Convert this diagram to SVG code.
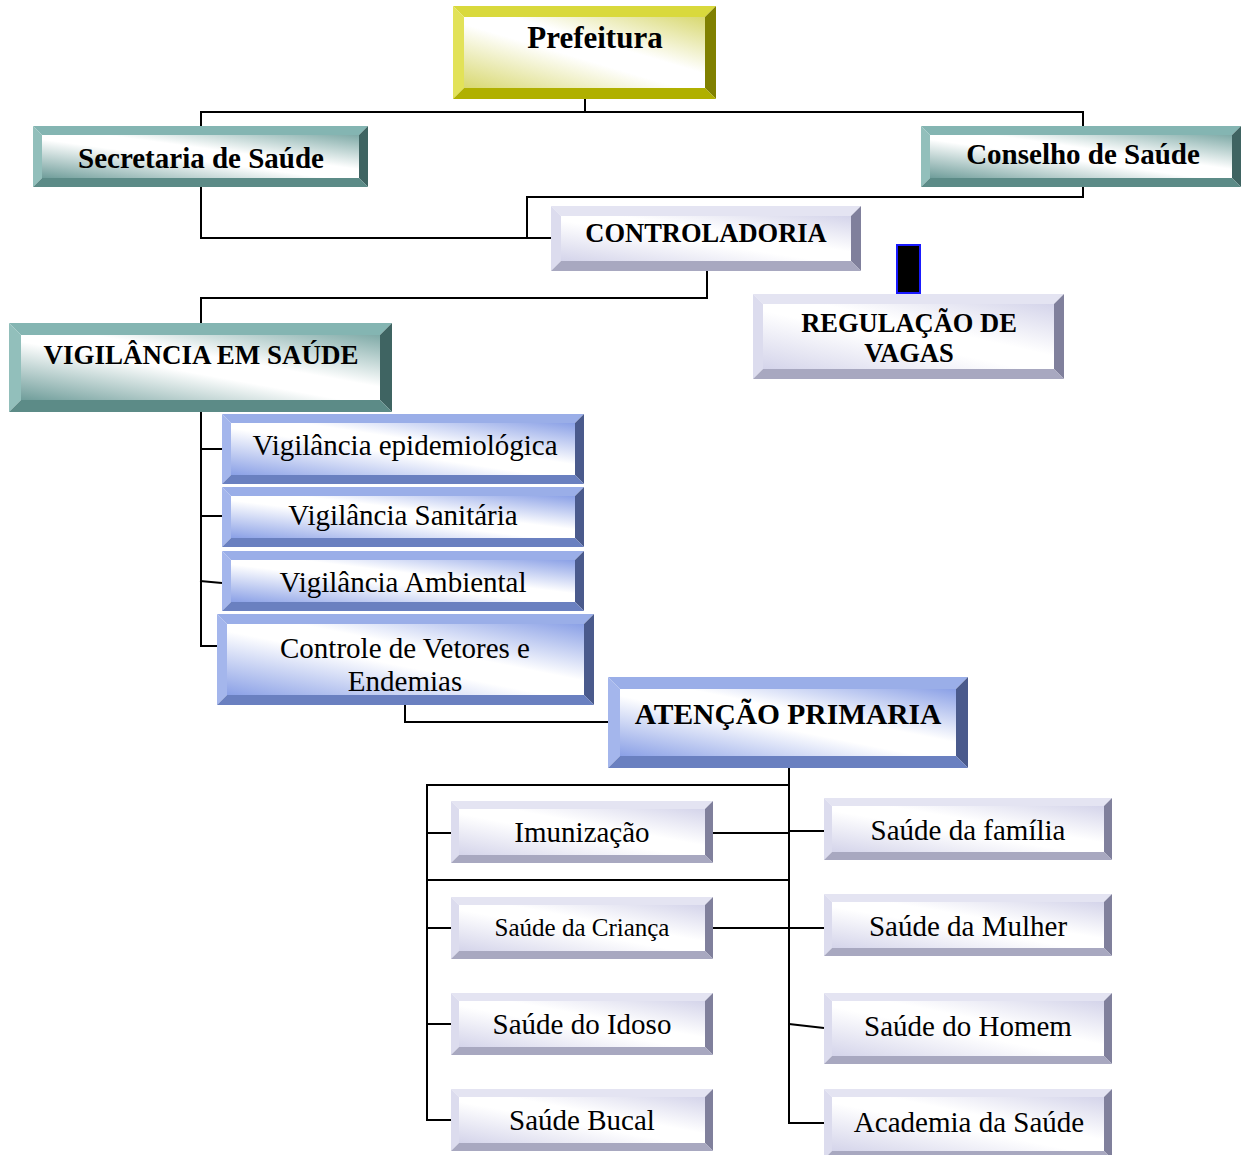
<svg xmlns="http://www.w3.org/2000/svg" width="1242" height="1155" viewBox="0 0 1242 1155">
<style>
text{font-family:"Liberation Serif","Times New Roman",serif;fill:#000;text-anchor:middle}
.b{font-weight:bold}
.c line,.c polyline{stroke:#000;stroke-width:2;fill:none}
.yt{fill:#d9d93c}.yl{fill:#e2e258}.yr{fill:#808000}.yb{fill:#b0b000}
.tt{fill:#84b5b2}.tl{fill:#92bfbb}.tr{fill:#3f6462}.tb{fill:#5c8b87}
.lt{fill:#e4e4f2}.ll{fill:#dcdcee}.lr{fill:#80809c}.lb{fill:#a8a8c0}
.bt{fill:#9aaee8}.bl{fill:#a4b6ec}.br{fill:#4a5a8c}.bb{fill:#6a80c0}
</style>
<defs>
<linearGradient id="gy" x1="0" y1="1" x2="1" y2="0"><stop offset="0" stop-color="#d8d870"/><stop offset="0.45" stop-color="#fff"/><stop offset="0.6" stop-color="#fff"/><stop offset="1" stop-color="#d8d870"/></linearGradient>
<linearGradient id="gt" x1="0" y1="1" x2="1" y2="0"><stop offset="0" stop-color="#6f9d9a"/><stop offset="0.45" stop-color="#fff"/><stop offset="0.6" stop-color="#fff"/><stop offset="1" stop-color="#7faaa7"/></linearGradient>
<linearGradient id="gl" x1="0" y1="1" x2="1" y2="0"><stop offset="0" stop-color="#d4d4ea"/><stop offset="0.45" stop-color="#fff"/><stop offset="0.6" stop-color="#fff"/><stop offset="1" stop-color="#d4d4ea"/></linearGradient>
<linearGradient id="gb" x1="0" y1="1" x2="1" y2="0"><stop offset="0" stop-color="#8aa0e6"/><stop offset="0.45" stop-color="#fff"/><stop offset="0.6" stop-color="#fff"/><stop offset="1" stop-color="#8aa0e6"/></linearGradient>
</defs>
<g class="c" id="connectors">
<polyline points="585,99 585,112"/>
<polyline points="201,126 201,112 1083,112 1083,126"/>
<polyline points="201,187 201,238 551,238"/>
<polyline points="1083,187 1083,197 527,197 527,238"/>
<polyline points="707,271 707,298 201,298 201,323"/>
<line x1="201" y1="412" x2="201" y2="647"/>
<line x1="200" y1="449" x2="222" y2="449"/>
<line x1="200" y1="516" x2="222" y2="516"/>
<line x1="200" y1="581" x2="222" y2="583"/>
<line x1="200" y1="646" x2="217" y2="646"/>
<polyline points="405,705 405,722 608,722"/>
<line x1="789" y1="768" x2="789" y2="1124"/>
<polyline points="789,785 427,785 427,1120 451,1120"/>
<line x1="427" y1="880" x2="789" y2="880"/>
<line x1="427" y1="833" x2="451" y2="833"/>
<line x1="427" y1="928" x2="451" y2="928"/>
<line x1="427" y1="1024" x2="451" y2="1024"/>
<line x1="713" y1="833" x2="789" y2="833"/>
<line x1="789" y1="831" x2="824" y2="831"/>
<line x1="713" y1="928" x2="789" y2="928"/>
<line x1="789" y1="928" x2="824" y2="928"/>
<line x1="789" y1="1024" x2="824" y2="1028"/>
<line x1="788" y1="1123" x2="824" y2="1123"/>
</g>
<g id="prefeitura">
<rect x="464" y="17" width="241" height="71" fill="url(#gy)"/>
<polygon class="yt" points="453,6 716,6 705,17 464,17"/>
<polygon class="yl" points="453,6 464,17 464,88 453,99"/>
<polygon class="yr" points="716,6 716,99 705,88 705,17"/>
<polygon class="yb" points="453,99 464,88 705,88 716,99"/>
<text class="b" x="595" y="48" font-size="31">Prefeitura</text>
</g>
<g id="secretaria">
<rect x="42" y="135" width="317" height="43" fill="url(#gt)"/>
<polygon class="tt" points="33,126 368,126 359,135 42,135"/>
<polygon class="tl" points="33,126 42,135 42,178 33,187"/>
<polygon class="tr" points="368,126 368,187 359,178 359,135"/>
<polygon class="tb" points="33,187 42,178 359,178 368,187"/>
<text class="b" x="201" y="168" font-size="29">Secretaria de Saúde</text>
</g>
<g id="conselho">
<rect x="930" y="135" width="302" height="43" fill="url(#gt)"/>
<polygon class="tt" points="921,126 1241,126 1232,135 930,135"/>
<polygon class="tl" points="921,126 930,135 930,178 921,187"/>
<polygon class="tr" points="1241,126 1241,187 1232,178 1232,135"/>
<polygon class="tb" points="921,187 930,178 1232,178 1241,187"/>
<text class="b" x="1083" y="164" font-size="29">Conselho de Saúde</text>
</g>
<g id="controladoria">
<rect x="561" y="216" width="290" height="45" fill="url(#gl)"/>
<polygon class="lt" points="551,206 861,206 851,216 561,216"/>
<polygon class="ll" points="551,206 561,216 561,261 551,271"/>
<polygon class="lr" points="861,206 861,271 851,261 851,216"/>
<polygon class="lb" points="551,271 561,261 851,261 861,271"/>
<text class="b" x="706" y="242" font-size="26.5">CONTROLADORIA</text>
</g>
<g id="marker-block">
<rect x="897" y="245" width="23" height="48" fill="#000" stroke="#1a1aff" stroke-width="2"/>
</g>
<g id="regulacao">
<rect x="763" y="304" width="291" height="65" fill="url(#gl)"/>
<polygon class="lt" points="753,294 1064,294 1054,304 763,304"/>
<polygon class="ll" points="753,294 763,304 763,369 753,379"/>
<polygon class="lr" points="1064,294 1064,379 1054,369 1054,304"/>
<polygon class="lb" points="753,379 763,369 1054,369 1064,379"/>
<text class="b" x="909" y="332" font-size="26.5">REGULAÇÃO DE</text>
<text class="b" x="909" y="362" font-size="26.5">VAGAS</text>
</g>
<g id="vigilancia-saude">
<rect x="21" y="335" width="359" height="65" fill="url(#gt)"/>
<polygon class="tt" points="9,323 392,323 380,335 21,335"/>
<polygon class="tl" points="9,323 21,335 21,400 9,412"/>
<polygon class="tr" points="392,323 392,412 380,400 380,335"/>
<polygon class="tb" points="9,412 21,400 380,400 392,412"/>
<text class="b" x="201" y="364" font-size="27">VIGILÂNCIA EM SAÚDE</text>
</g>
<g id="vig-epidemiologica">
<rect x="231" y="423" width="344" height="52" fill="url(#gb)"/>
<polygon class="bt" points="222,414 584,414 575,423 231,423"/>
<polygon class="bl" points="222,414 231,423 231,475 222,484"/>
<polygon class="br" points="584,414 584,484 575,475 575,423"/>
<polygon class="bb" points="222,484 231,475 575,475 584,484"/>
<text x="405" y="455" font-size="29">Vigilância epidemiológica</text>
</g>
<g id="vig-sanitaria">
<rect x="231" y="496" width="344" height="42" fill="url(#gb)"/>
<polygon class="bt" points="222,487 584,487 575,496 231,496"/>
<polygon class="bl" points="222,487 231,496 231,538 222,547"/>
<polygon class="br" points="584,487 584,547 575,538 575,496"/>
<polygon class="bb" points="222,547 231,538 575,538 584,547"/>
<text x="403" y="525" font-size="29">Vigilância Sanitária</text>
</g>
<g id="vig-ambiental">
<rect x="231" y="560" width="344" height="42" fill="url(#gb)"/>
<polygon class="bt" points="222,551 584,551 575,560 231,560"/>
<polygon class="bl" points="222,551 231,560 231,602 222,611"/>
<polygon class="br" points="584,551 584,611 575,602 575,560"/>
<polygon class="bb" points="222,611 231,602 575,602 584,611"/>
<text x="403" y="592" font-size="29">Vigilância Ambiental</text>
</g>
<g id="controle-vetores">
<rect x="227" y="624" width="357" height="71" fill="url(#gb)"/>
<text x="405" y="658" font-size="29">Controle de Vetores e</text>
<text x="405" y="691" font-size="29">Endemias</text>
<polygon class="bt" points="217,614 594,614 584,624 227,624"/>
<polygon class="bl" points="217,614 227,624 227,695 217,705"/>
<polygon class="br" points="594,614 594,705 584,695 584,624"/>
<polygon class="bb" points="217,705 227,695 584,695 594,705"/>
</g>
<g id="atencao-primaria">
<rect x="620" y="689" width="336" height="67" fill="url(#gb)"/>
<polygon class="bt" points="608,677 968,677 956,689 620,689"/>
<polygon class="bl" points="608,677 620,689 620,756 608,768"/>
<polygon class="br" points="968,677 968,768 956,756 956,689"/>
<polygon class="bb" points="608,768 620,756 956,756 968,768"/>
<text class="b" x="788" y="724" font-size="29.5">ATENÇÃO PRIMARIA</text>
</g>
<g id="imunizacao">
<rect x="459" y="809" width="246" height="46" fill="url(#gl)"/>
<polygon class="lt" points="451,801 713,801 705,809 459,809"/>
<polygon class="ll" points="451,801 459,809 459,855 451,863"/>
<polygon class="lr" points="713,801 713,863 705,855 705,809"/>
<polygon class="lb" points="451,863 459,855 705,855 713,863"/>
<text x="582" y="842" font-size="29">Imunização</text>
</g>
<g id="saude-crianca">
<rect x="459" y="905" width="246" height="46" fill="url(#gl)"/>
<polygon class="lt" points="451,897 713,897 705,905 459,905"/>
<polygon class="ll" points="451,897 459,905 459,951 451,959"/>
<polygon class="lr" points="713,897 713,959 705,951 705,905"/>
<polygon class="lb" points="451,959 459,951 705,951 713,959"/>
<text x="582" y="936" font-size="25">Saúde da Criança</text>
</g>
<g id="saude-idoso">
<rect x="459" y="1001" width="246" height="46" fill="url(#gl)"/>
<polygon class="lt" points="451,993 713,993 705,1001 459,1001"/>
<polygon class="ll" points="451,993 459,1001 459,1047 451,1055"/>
<polygon class="lr" points="713,993 713,1055 705,1047 705,1001"/>
<polygon class="lb" points="451,1055 459,1047 705,1047 713,1055"/>
<text x="582" y="1034" font-size="29">Saúde do Idoso</text>
</g>
<g id="saude-bucal">
<rect x="459" y="1097" width="246" height="46" fill="url(#gl)"/>
<polygon class="lt" points="451,1089 713,1089 705,1097 459,1097"/>
<polygon class="ll" points="451,1089 459,1097 459,1143 451,1151"/>
<polygon class="lr" points="713,1089 713,1151 705,1143 705,1097"/>
<polygon class="lb" points="451,1151 459,1143 705,1143 713,1151"/>
<text x="582" y="1130" font-size="29">Saúde Bucal</text>
</g>
<g id="saude-familia">
<rect x="832" y="806" width="272" height="46" fill="url(#gl)"/>
<polygon class="lt" points="824,798 1112,798 1104,806 832,806"/>
<polygon class="ll" points="824,798 832,806 832,852 824,860"/>
<polygon class="lr" points="1112,798 1112,860 1104,852 1104,806"/>
<polygon class="lb" points="824,860 832,852 1104,852 1112,860"/>
<text x="968" y="840" font-size="29">Saúde da família</text>
</g>
<g id="saude-mulher">
<rect x="832" y="902" width="272" height="46" fill="url(#gl)"/>
<polygon class="lt" points="824,894 1112,894 1104,902 832,902"/>
<polygon class="ll" points="824,894 832,902 832,948 824,956"/>
<polygon class="lr" points="1112,894 1112,956 1104,948 1104,902"/>
<polygon class="lb" points="824,956 832,948 1104,948 1112,956"/>
<text x="968" y="936" font-size="29">Saúde da Mulher</text>
</g>
<g id="saude-homem">
<rect x="832" y="1001" width="272" height="55" fill="url(#gl)"/>
<polygon class="lt" points="824,993 1112,993 1104,1001 832,1001"/>
<polygon class="ll" points="824,993 832,1001 832,1056 824,1064"/>
<polygon class="lr" points="1112,993 1112,1064 1104,1056 1104,1001"/>
<polygon class="lb" points="824,1064 832,1056 1104,1056 1112,1064"/>
<text x="968" y="1036" font-size="29">Saúde do Homem</text>
</g>
<g id="academia-saude">
<rect x="832" y="1097" width="272" height="54" fill="url(#gl)"/>
<polygon class="lt" points="824,1089 1112,1089 1104,1097 832,1097"/>
<polygon class="ll" points="824,1089 832,1097 832,1151 824,1159"/>
<polygon class="lr" points="1112,1089 1112,1159 1104,1151 1104,1097"/>
<polygon class="lb" points="824,1159 832,1151 1104,1151 1112,1159"/>
<text x="969" y="1132" font-size="29">Academia da Saúde</text>
</g>
</svg>
